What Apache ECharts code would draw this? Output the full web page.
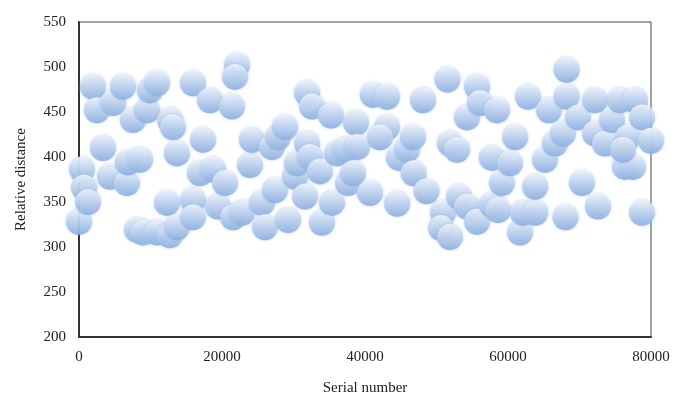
<!DOCTYPE html>
<html><head><meta charset="utf-8">
<script src="https://cdn.jsdelivr.net/npm/echarts@6/dist/echarts.min.js"></script>
<style>html,body{margin:0;padding:0;background:#fff}#c{width:676px;height:401px}</style>
</head><body><div id="c"></div>
<script>
const serialNumbers = [0,420,700,1260,1960,2520,3360,4340,4760,6150,6710,6850,7550,8110,8530,8950,9510,9930,10910,10910,12310,12730,13150,12730,13710,13710,15940,15940,15940,16920,17340,18320,18740,19440,20420,21400,21540,22100,21820,22800,23920,24200,25590,26010,26990,27410,27830,28810,29230,30210,30490,31610,31890,31890,32590,32300,33700,33980,35380,35240,36080,37200,37620,38740,38320,38880,41100,43080,40700,43080,42100,44500,44750,45870,46710,46800,48110,48600,51540,50910,50630,51890,51890,52870,53150,54270,55670,56080,54270,55670,57740,57740,58460,59160,58600,60280,61000,61680,62100,62800,63800,63790,65170,65730,66570,68040,68200,68200,67690,69790,70350,72170,72170,72590,73570,74550,75670,76360,77760,77480,76780,78740,80000,78740,76080];
const relativeDistance = [328,386,366,350,478,452,410,378,460,478,371,394,441,319,397,316,452,474,482,316,349,441,433,313,404,322,482,352,333,382,419,463,386,345,371,456,333,502,489,338,391,419,349,322,411,363,422,433,330,378,393,356,415,471,456,400,384,327,349,446,404,408,371,438,382,411,469,467,360,433,422,348,399,408,422,382,463,362,486,338,321,311,415,408,356,444,478,460,345,328,347,399,452,371,341,393,422,316,338,467,338,367,397,452,415,333,497,467,426,444,371,463,426,345,415,441,463,389,463,389,422,444,418,338,408];
const xTicks = [0,20000,40000,60000,80000];
const yTicks = [200,250,300,350,400,450,500,550];

const points = serialNumbers.map((x,i)=>[x, relativeDistance[i]]);
const chart = echarts.init(document.getElementById('c'));
const font = '"Liberation Serif","DejaVu Serif",serif';
chart.setOption({
  animation:false,
  backgroundColor:'#fff',
  grid:{left:79,right:25,top:22,bottom:64,show:true,borderColor:'#444',borderWidth:1},
  xAxis:{type:'value',min:xTicks[0],max:xTicks[xTicks.length-1],interval:20000,
    name:'Serial number',nameLocation:'middle',nameGap:44,
    nameTextStyle:{fontFamily:font,fontSize:15,color:'#222'},
    axisLine:{show:true,onZero:false,lineStyle:{color:'#333',width:2}},
    axisTick:{show:false},splitLine:{show:false},
    axisLabel:{fontFamily:font,fontSize:15,color:'#222',margin:13,formatter:v=>String(v)}},
  yAxis:{type:'value',min:yTicks[0],max:yTicks[yTicks.length-1],interval:50,
    name:'Relative distance',nameLocation:'middle',nameGap:50,
    nameTextStyle:{fontFamily:font,fontSize:15,color:'#222'},
    axisLine:{show:true,lineStyle:{color:'#333',width:2}},
    axisTick:{show:false},splitLine:{show:false},
    axisLabel:{fontFamily:font,fontSize:15,color:'#222',margin:13,formatter:v=>String(v)}},
  series:[{type:'scatter',data:points,symbolSize:26,
    itemStyle:{opacity:0.9,shadowBlur:3,shadowColor:'rgba(140,175,225,0.6)',
      color:new echarts.graphic.LinearGradient(0,0,0,1,[
      {offset:0,color:'#f0f5fc'},{offset:0.45,color:'#c2d5ef'},{offset:1,color:'#8cafe0'}])}}]
});
</script></body></html>
